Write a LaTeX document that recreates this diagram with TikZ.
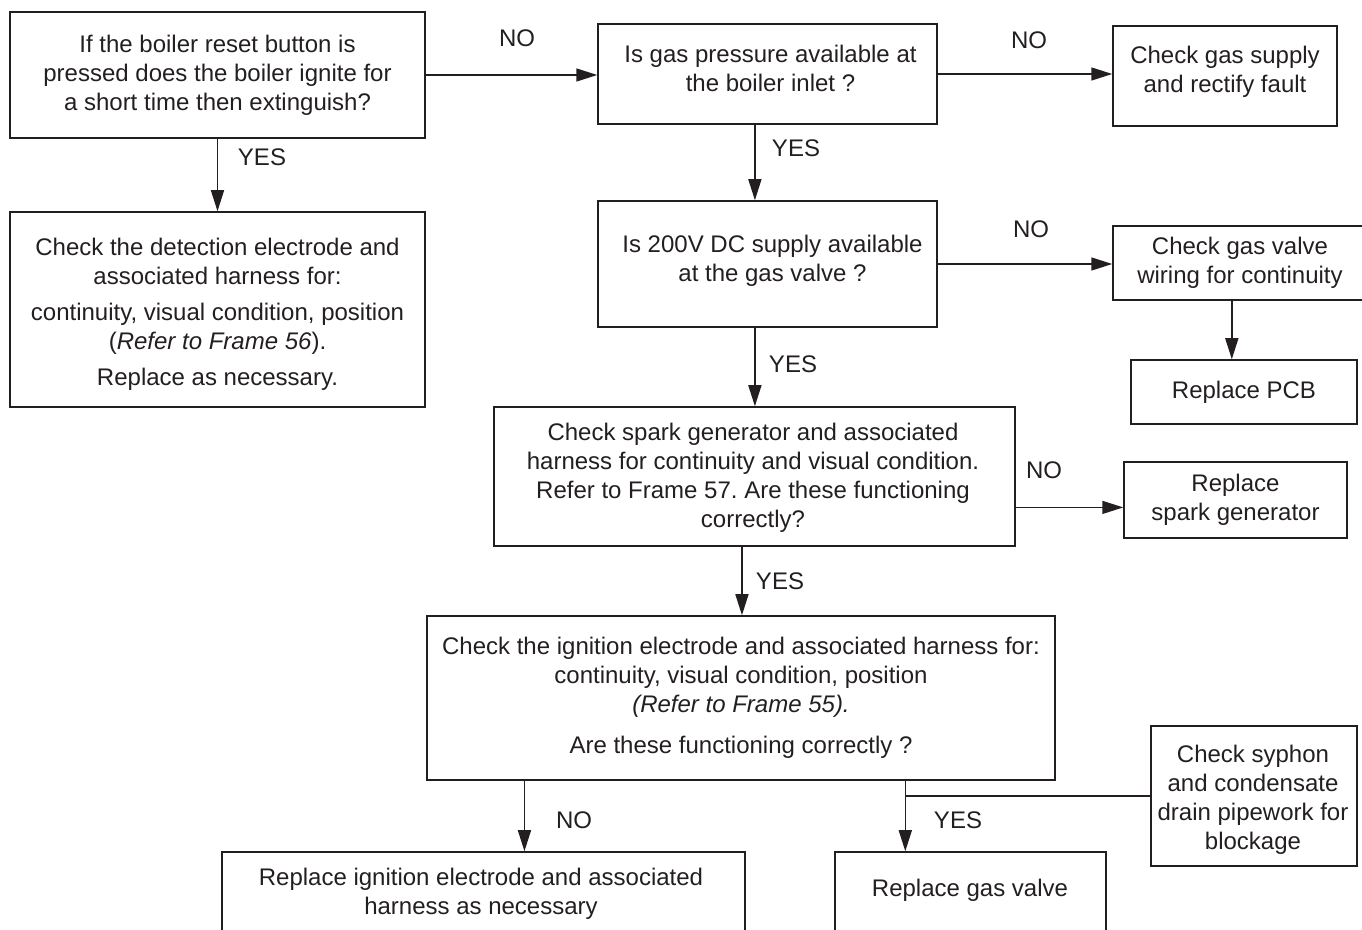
\documentclass[tikz,border=0pt]{standalone}
\usepackage{fontspec}
\setmainfont{Liberation Sans}
\usetikzlibrary{arrows.meta,calc}
\definecolor{linec}{HTML}{231F20}
\frenchspacing
\begin{document}
\begin{tikzpicture}[x=0.5pt,y=-0.5pt,
  box/.style={draw=linec, line width=0.75pt, align=center, inner sep=0pt, text=linec,
    font=\fontsize{12}{14.5}\selectfont},
  lbl/.style={text=linec, inner sep=0pt, align=center, font=\fontsize{12}{14.5}\selectfont},
  arr/.style={draw=linec, line width=0.75pt, -{Triangle[length=10.5pt,width=6.5pt]}},
  ln/.style={draw=linec, line width=0.75pt}]
\useasboundingbox (0,0) rectangle (1362,930);
\clip (0,0) rectangle (1362,930);
% boxes
\node[box, minimum width=207.5pt, minimum height=63pt] (A) at (217.5,75)
  {If the boiler reset button is\\pressed does the boiler ignite for\\a short time then extinguish?};
\node[box, minimum width=169.5pt, minimum height=50pt] (B) at (767.5,74) {};
\node[lbl] (Bt) at (770.5,68.5) {Is gas pressure available at\\the boiler inlet ?};
\node[box, minimum width=112pt, minimum height=50pt] (C) at (1225,76) {};
\node[lbl] (Ct) at (1225,72) {Check gas supply\\and rectify fault};
\node[box, minimum width=207.5pt, minimum height=97.5pt] (D) at (217.5,309.5) {};
\node[lbl] (Dt) at (217.5,314.5)
  {Check the detection electrode and\\associated harness for:\\[3.5pt]
   continuity, visual condition, position\\(\textit{Refer to Frame 56}).\\[3.5pt]
   Replace as necessary.};
\node[box, minimum width=169.5pt, minimum height=63pt] (E) at (767.5,264) {};
\node[lbl] (Et) at (772.5,261) {Is 200V DC supply available\\at the gas valve ?};
\node[box, minimum width=127pt, minimum height=37pt] (F) at (1240,263)
  {Check gas valve\\wiring for continuity};
\node[box, minimum width=113pt, minimum height=32pt] (G) at (1244,392)
  {Replace PCB};
\node[box, minimum width=260.5pt, minimum height=69.5pt] (H) at (754.5,476.5) {};
\node[lbl] (Ht) at (753,478)
  {Check spark generator and associated\\harness for continuity and visual condition.\\
   Refer to Frame 57. Are these functioning\\correctly?};
\node[box, minimum width=111.5pt, minimum height=38pt] (I) at (1235.5,500)
  {Replace\\spark generator};
\node[box, minimum width=314pt, minimum height=82pt] (J) at (741,698)
  {Check the ignition electrode and associated harness for:\\
   continuity, visual condition, position\\\textit{(Refer to Frame 55).}\\[6pt]
   Are these functioning correctly ?};
\node[box, minimum width=103pt, minimum height=70pt] (K) at (1254,796) {};
\node[lbl] (Kt) at (1253,799.5) {Check syphon\\and condensate\\drain pipework for\\blockage};
\node[box, minimum width=261.5pt, minimum height=41pt] (L) at (483.5,893) {};
\node[lbl] (Lt) at (481,894) {Replace ignition electrode and associated\\harness as necessary};
\node[box, minimum width=135.5pt, minimum height=44pt] (M) at (970.5,896) {};
\node[lbl] (Mt) at (970,890) {Replace gas valve};
% labels
\node[lbl] (n1) at (517,38) {NO};
\node[lbl] (n2) at (1029,40) {NO};
\node[lbl] (y1) at (262,157) {YES};
\node[lbl] (y2) at (796,148) {YES};
\node[lbl] (n3) at (1031,229) {NO};
\node[lbl] (y3) at (793,364) {YES};
\node[lbl] (n4) at (1044,470) {NO};
\node[lbl] (y4) at (780,581) {YES};
\node[lbl] (n5) at (574,820) {NO};
\node[lbl] (y5) at (958,820) {YES};
% connection points
\coordinate (bs) at ($(B.south west)!0.463!(B.south east)$);
\coordinate (es) at ($(E.south west)!0.463!(E.south east)$);
\coordinate (fs) at ($(F.south west)!0.468!(F.south east)$);
\coordinate (he) at ($(H.north east)!0.72!(H.south east)$);
\coordinate (hs) at ($(H.south west)!0.476!(H.south east)$);
\coordinate (jl) at ($(J.south west)!0.156!(J.south east)$);
\coordinate (jm) at ($(J.south west)!0.761!(J.south east)$);
% connectors
\draw[arr] (A.east) -- (A.east -| B.west);
\draw[arr] (B.east) -- (B.east -| C.west);
\draw[arr] (A.south) -- (D.north);
\draw[arr] (bs) -- (bs |- E.north);
\draw[arr] (E.east) -- (E.east -| F.west);
\draw[arr] (fs) -- (fs |- G.north);
\draw[arr] (es) -- (es |- H.north);
\draw[arr] (he) -- (he -| I.west);
\draw[arr] (hs) -- (hs |- J.north);
\draw[arr] (jl) -- (jl |- L.north);
\draw[arr] (jm) -- (jm |- M.north);
\draw[ln] (K.west) -- (K.west -| jm);
\end{tikzpicture}
\end{document}
